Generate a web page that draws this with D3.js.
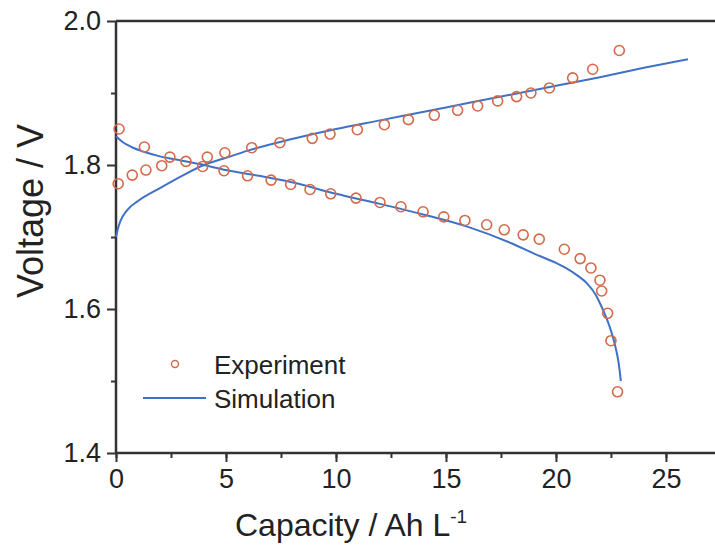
<!DOCTYPE html>
<html>
<head>
<meta charset="utf-8">
<script src="https://cdn.jsdelivr.net/npm/d3@7"></script>
<style>
  body { margin: 0; background: #fff; }
  text { font-family: Arial, "Liberation Sans", sans-serif; fill: #222; }
</style>
</head>
<body>
<div id="chart"></div>
<script>
// experiment: charge branch (rising) and discharge branch (falling)
var chargeCap = [0.1, 0.74, 1.36, 2.08, 4.15, 4.95, 6.17, 7.45, 8.92, 9.73, 10.97, 12.2, 13.29, 14.47, 15.53, 16.44, 17.35, 18.21, 18.86, 19.7, 20.76, 21.67, 22.88]
var chargeV   = [1.774, 1.786, 1.793, 1.799, 1.811, 1.817, 1.824, 1.831, 1.837, 1.843, 1.849, 1.856, 1.863, 1.869, 1.876, 1.882, 1.889, 1.895, 1.900, 1.907, 1.921, 1.933, 1.959]
var dischCap  = [0.14, 1.29, 2.45, 3.18, 3.94, 4.91, 5.98, 7.05, 7.94, 8.82, 9.76, 10.91, 12.0, 12.95, 13.96, 14.9, 15.86, 16.85, 17.65, 18.51, 19.24, 20.38, 21.1, 21.59, 22.0, 22.08, 22.35, 22.5, 22.8]
var dischV    = [1.850, 1.825, 1.811, 1.805, 1.798, 1.792, 1.785, 1.779, 1.773, 1.766, 1.760, 1.754, 1.748, 1.742, 1.735, 1.728, 1.723, 1.717, 1.710, 1.703, 1.697, 1.683, 1.670, 1.657, 1.640, 1.625, 1.594, 1.556, 1.485]

// simulation curves
var simChargeCap = [0, 0.1, 0.2, 0.5, 1.0, 2.0, 3.0, 4.0, 5.0, 6.0, 8.0, 10.0, 12.0, 14.0, 16.0, 18.0, 20.0, 22.0, 24.0, 26.0]
var simChargeV   = [1.700, 1.713, 1.722, 1.737, 1.750, 1.768, 1.785, 1.800, 1.810, 1.820, 1.836, 1.850, 1.862, 1.874, 1.886, 1.898, 1.910, 1.922, 1.935, 1.947]
var simDischCap  = [0, 0.3, 0.7, 1.3, 2.0, 3.0, 4.0, 5.0, 6.5, 8.0, 10.0, 12.0, 14.0, 16.0, 18.0, 19.0, 20.0, 20.5, 21.0, 21.4, 21.8, 22.0, 22.3, 22.5, 22.7, 22.85, 22.95]
var simDischV    = [1.840, 1.832, 1.825, 1.818, 1.812, 1.806, 1.800, 1.793, 1.785, 1.776, 1.760, 1.746, 1.731, 1.714, 1.691, 1.677, 1.664, 1.656, 1.646, 1.636, 1.620, 1.608, 1.587, 1.570, 1.548, 1.525, 1.500]

var xTicks = [0, 5, 10, 15, 20, 25]
var yTicks = [1.4, 1.6, 1.8, 2.0]

var width = 715,
    height = 549

var svg = d3.select("#chart")
  .append("svg")
    .attr("width", width)
    .attr("height", height)

var x = d3.scaleLinear().domain([0, 27.23]).range([116, 715])
var y = d3.scaleLinear().domain([1.4, 2.0]).range([453, 21])

var axisColor = "#333"

// bottom axis with minor ticks
svg.append("g")
  .attr("transform", "translate(0,453)")
  .call(d3.axisBottom(x).tickValues(d3.range(0, 27.5, 2.5)).tickSize(5).tickFormat(""))
  .call(g => g.select(".domain").remove())
  .selectAll("line").attr("stroke", axisColor).attr("stroke-width", 2)
svg.append("g")
  .attr("class", "xaxis")
  .attr("transform", "translate(0,453)")
  .call(d3.axisBottom(x).tickValues(xTicks).tickSize(9).tickPadding(7).tickFormat(d3.format("d")))
  .call(g => g.select(".domain").remove())
svg.selectAll(".xaxis line").attr("stroke", axisColor).attr("stroke-width", 2)
svg.selectAll(".xaxis text").style("font-size", "27px")

// left axis
svg.append("g")
  .attr("transform", "translate(116,0)")
  .call(d3.axisLeft(y).tickValues([1.5, 1.7, 1.9]).tickSize(5).tickFormat(""))
  .call(g => g.select(".domain").remove())
  .selectAll("line").attr("stroke", axisColor).attr("stroke-width", 2)
svg.append("g")
  .attr("class", "yaxis")
  .attr("transform", "translate(116,0)")
  .call(d3.axisLeft(y).tickValues(yTicks).tickSize(9).tickPadding(6).tickFormat(d3.format(".1f")))
  .call(g => g.select(".domain").remove())
svg.selectAll(".yaxis line").attr("stroke", axisColor).attr("stroke-width", 2)
svg.selectAll(".yaxis text").style("font-size", "27px")

// spines
svg.append("line").attr("x1", 116).attr("x2", 715).attr("y1", 453).attr("y2", 453)
  .attr("stroke", axisColor).attr("stroke-width", 2.5)
svg.append("line").attr("x1", 116).attr("x2", 715).attr("y1", 21).attr("y2", 21)
  .attr("stroke", axisColor).attr("stroke-width", 2.5)
svg.append("line").attr("x1", 116).attr("x2", 116).attr("y1", 21).attr("y2", 453)
  .attr("stroke", axisColor).attr("stroke-width", 2.5)

// simulation lines
var line = d3.line()
  .x(d => x(d[0]))
  .y(d => y(d[1]))
  .curve(d3.curveMonotoneX)

var lineColor = "#3f72c6"
svg.append("path")
  .datum(d3.zip(simChargeCap, simChargeV))
  .attr("d", line)
  .attr("fill", "none").attr("stroke", lineColor).attr("stroke-width", 2)
svg.append("path")
  .datum(d3.zip(simDischCap, simDischV))
  .attr("d", line)
  .attr("fill", "none").attr("stroke", lineColor).attr("stroke-width", 2)

// experiment circles
var dotColor = "#d4694a"
var expData = d3.zip(chargeCap, chargeV).concat(d3.zip(dischCap, dischV))
svg.selectAll(".dot")
  .data(expData)
  .enter()
  .append("circle")
    .attr("cx", d => x(d[0]))
    .attr("cy", d => y(d[1]))
    .attr("r", 5)
    .attr("fill", "none")
    .attr("stroke", dotColor)
    .attr("stroke-width", 1.6)

// legend
svg.append("circle").attr("cx", 175).attr("cy", 364).attr("r", 3.5)
  .attr("fill", "none").attr("stroke", dotColor).attr("stroke-width", 1.4)
svg.append("text").attr("x", 214).attr("y", 374).text("Experiment").style("font-size", "26px")
svg.append("line").attr("x1", 143).attr("x2", 206).attr("y1", 398).attr("y2", 398)
  .attr("stroke", lineColor).attr("stroke-width", 2)
svg.append("text").attr("x", 214).attr("y", 408).text("Simulation").style("font-size", "26px")

// axis titles
var xt = svg.append("text")
  .attr("x", 235).attr("y", 536)
  .style("font-size", "32px")
xt.append("tspan").text("Capacity / Ah L")
xt.append("tspan").text("-1").attr("dy", -13).style("font-size", "19px")

svg.append("text")
  .attr("transform", "translate(43,211) rotate(-90)")
  .attr("text-anchor", "middle")
  .style("font-size", "36px")
  .text("Voltage / V")
</script>
</body>
</html>
